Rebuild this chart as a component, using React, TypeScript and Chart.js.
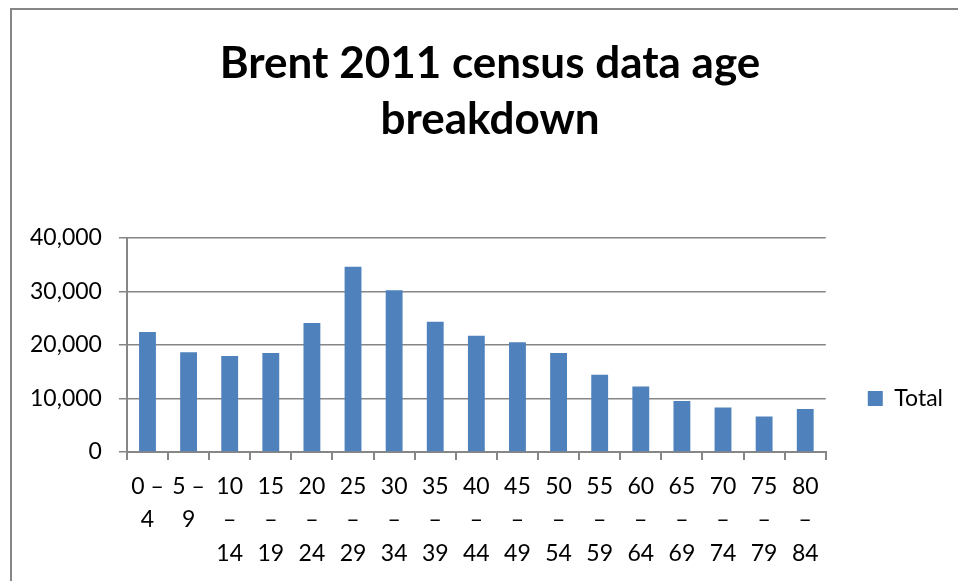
import React, { useEffect, useRef } from "react";
import { Chart, registerables } from "chart.js";

Chart.register(...registerables);

const titleLines = ["Brent 2011 census data age", "breakdown"];
const ageGroups = [
  ["0 –", "4"],
  ["5 –", "9"],
  ["10", "–", "14"],
  ["15", "–", "19"],
  ["20", "–", "24"],
  ["25", "–", "29"],
  ["30", "–", "34"],
  ["35", "–", "39"],
  ["40", "–", "44"],
  ["45", "–", "49"],
  ["50", "–", "54"],
  ["55", "–", "59"],
  ["60", "–", "64"],
  ["65", "–", "69"],
  ["70", "–", "74"],
  ["75", "–", "79"],
  ["80", "–", "84"],
];
const seriesName = "Total";
const totals = [
  22400, 18600, 17900, 18500, 24100, 34600, 30200, 24300, 21700, 20500, 18500,
  14400, 12200, 9500, 8300, 6600, 8000,
];
const yMin = 0;
const yMax = 40000;
const yStep = 10000;

const FONT = "Lato";
const AXIS_GRAY = "#868686";
const BAR_BLUE = "#4f81bd";

// Center the title on the whole chart frame (as the original does), not on the padded layout box.
const fullWidthTitle = {
  id: "fullWidthTitle",
  afterLayout(chart: any) {
    const t = chart.titleBlock;
    if (t) {
      t.left = 0;
      t.right = chart.width;
      t.width = chart.width;
    }
  },
};

export default function App() {
  const ref = useRef<HTMLCanvasElement>(null);
  useEffect(() => {
    if (!ref.current) return;
    const chart = new Chart(ref.current, {
      type: "bar",
      data: {
        labels: ageGroups,
        datasets: [
          {
            label: seriesName,
            data: totals,
            backgroundColor: BAR_BLUE,
            borderWidth: 0,
            categoryPercentage: 1,
            barPercentage: 0.41,
          },
        ],
      },
      options: {
        animation: false,
        responsive: false,
        maintainAspectRatio: false,
        layout: { padding: { left: 1, right: 15, top: 0, bottom: 1 } },
        plugins: {
          legend: {
            display: true,
            position: "right",
            align: "end",
            fullSize: false,
            labels: {
              boxWidth: 15,
              boxHeight: 15,
              padding: 42,
              color: "#000",
              font: { family: FONT, size: 23 },
            },
          },
          tooltip: { enabled: false },
          title: {
            display: true,
            text: titleLines,
            color: "#000",
            font: { family: FONT, size: 44, weight: "bold", lineHeight: 1.27 },
            padding: { top: 26, bottom: 90 },
          },
        },
        scales: {
          x: {
            grid: {
              display: true,
              drawOnChartArea: false,
              drawTicks: true,
              tickLength: 8,
              color: AXIS_GRAY,
              lineWidth: 2,
              offset: true,
            },
            border: { display: true, color: AXIS_GRAY, width: 2 },
            ticks: {
              autoSkip: false,
              maxRotation: 0,
              minRotation: 0,
              color: "#000",
              padding: 10,
              font: { family: FONT, size: 23, lineHeight: 1.45 },
            },
          },
          y: {
            min: yMin,
            max: yMax,
            ticks: {
              stepSize: yStep,
              color: "#000",
              padding: 17,
              font: { family: FONT, size: 23 },
            },
            grid: {
              color: AXIS_GRAY,
              lineWidth: 1.5,
              tickLength: 8,
              drawTicks: true,
            },
            border: { display: true, color: AXIS_GRAY, width: 2 },
          },
        },
      },
      plugins: [fullWidthTitle],
    });
    return () => chart.destroy();
  }, []);

  return (
    <div
      style={{
        position: "fixed",
        left: 0,
        top: 0,
        width: 958,
        height: 581,
        overflow: "hidden",
        background: "#fff",
      }}
    >
      <div
        style={{
          position: "absolute",
          left: 10,
          top: 8,
          width: 1000,
          height: 700,
          borderLeft: `2px solid ${AXIS_GRAY}`,
          borderTop: `2px solid ${AXIS_GRAY}`,
        }}
      />
      <canvas
        ref={ref}
        width={956}
        height={571}
        style={{ position: "absolute", left: 12, top: 10, width: 956, height: 571 }}
      />
    </div>
  );
}
